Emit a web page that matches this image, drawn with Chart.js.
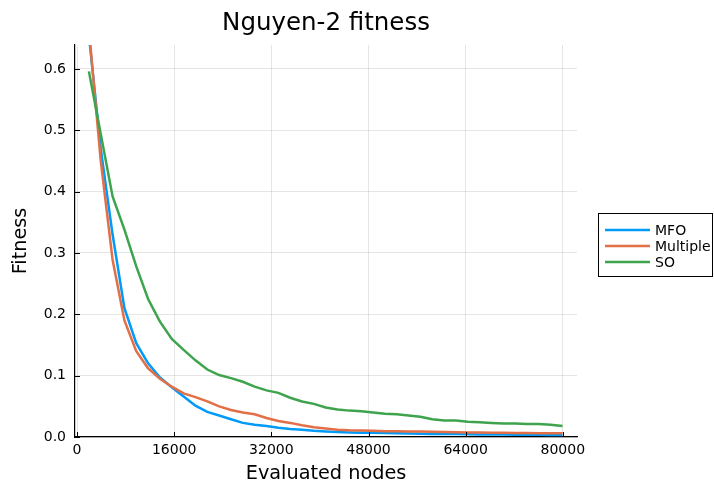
<!DOCTYPE html>
<html>
<head>
<meta charset="utf-8">
<title>Nguyen-2 fitness</title>
<script src="https://cdn.jsdelivr.net/npm/chart.js@4.4.1/dist/chart.umd.min.js"></script>
<style>
	html, body { margin: 0; padding: 0; background: #fff; }
	canvas { display: block; }
</style>
</head>
<body>
<canvas id="fitness-chart" width="714" height="488"></canvas>
<script>
// Evaluated nodes per generation (shared by all runs)
const evaluatedNodes = [
	1950, 3900, 5850, 7800, 9750, 11700, 13650, 15600, 17550, 19500,
	21450, 23400, 25350, 27300, 29250, 31200, 33150, 35100, 37050, 39000,
	40950, 42900, 44850, 46800, 48750, 50700, 52650, 54600, 56550, 58500,
	60450, 62400, 64350, 66300, 68250, 70200, 72150, 74100, 76050, 78000, 79950
];

const mfoFitness = [
	0.655, 0.47, 0.33, 0.21, 0.153, 0.12, 0.097, 0.081, 0.066, 0.051,
	0.041, 0.035, 0.029, 0.023, 0.020, 0.018, 0.015, 0.013, 0.012, 0.010,
	0.009, 0.008, 0.0075, 0.007, 0.0068, 0.0065, 0.006, 0.0058, 0.0055, 0.005,
	0.005, 0.0048, 0.0045, 0.0042, 0.004, 0.004, 0.0038, 0.0036, 0.0035, 0.0034, 0.0033
];

const multipleFitness = [
	0.665, 0.45, 0.289, 0.19, 0.14, 0.112, 0.095, 0.082, 0.071, 0.065,
	0.058, 0.050, 0.044, 0.040, 0.037, 0.031, 0.026, 0.023, 0.019, 0.016,
	0.014, 0.012, 0.011, 0.0105, 0.010, 0.0095, 0.0092, 0.009, 0.0088, 0.0085,
	0.008, 0.0078, 0.0075, 0.0072, 0.007, 0.0068, 0.0066, 0.0064, 0.0062, 0.006, 0.006
];

const soFitness = [
	0.596, 0.494, 0.392, 0.338, 0.278, 0.225, 0.188, 0.160, 0.142, 0.125,
	0.110, 0.101, 0.096, 0.090, 0.082, 0.076, 0.072, 0.064, 0.058, 0.054,
	0.048, 0.045, 0.043, 0.042, 0.040, 0.038, 0.037, 0.035, 0.033, 0.029,
	0.027, 0.027, 0.025, 0.024, 0.023, 0.022, 0.022, 0.021, 0.021, 0.020, 0.018
];

const xTicks = [0, 16000, 32000, 48000, 64000, 80000];
const yTicks = [0, 0.1, 0.2, 0.3, 0.4, 0.5, 0.6];

const FONT = '"DejaVu Sans", sans-serif';

function toPoints(ys) {
	return ys.map((y, i) => ({ x: evaluatedNodes[i], y }));
}

// Title, inward tick marks and the boxed legend to the right of the plot
const decorations = {
	id: 'decorations',
	afterDraw(chart) {
		const { ctx, chartArea, scales } = chart;
		ctx.save();

		// title
		ctx.fillStyle = '#000';
		ctx.font = `24.5px ${FONT}`;
		ctx.textAlign = 'center';
		ctx.textBaseline = 'alphabetic';
		ctx.fillText('Nguyen-2 fitness', (chartArea.left + chartArea.right) / 2, 30);

		// ticks point into the plot
		ctx.strokeStyle = '#000';
		ctx.lineWidth = 1;
		ctx.beginPath();
		xTicks.forEach((v) => {
			const px = Math.round(scales.x.getPixelForValue(v)) + 0.5;
			ctx.moveTo(px, chartArea.bottom);
			ctx.lineTo(px, chartArea.bottom - 5);
		});
		yTicks.forEach((v) => {
			const py = Math.round(scales.y.getPixelForValue(v)) + 0.5;
			ctx.moveTo(chartArea.left, py);
			ctx.lineTo(chartArea.left + 5, py);
		});
		ctx.stroke();

		// legend
		const boxX = 598.5, boxY = 213.5, boxW = 114, boxH = 63;
		ctx.fillStyle = '#fff';
		ctx.fillRect(boxX, boxY, boxW, boxH);
		ctx.strokeStyle = '#000';
		ctx.lineWidth = 1;
		ctx.strokeRect(boxX, boxY, boxW, boxH);
		ctx.font = `14px ${FONT}`;
		ctx.textAlign = 'left';
		ctx.textBaseline = 'middle';
		chart.data.datasets.forEach((ds, i) => {
			const y = 230 + i * 16;
			ctx.strokeStyle = ds.borderColor;
			ctx.lineWidth = 2.5;
			ctx.beginPath();
			ctx.moveTo(605, y);
			ctx.lineTo(650, y);
			ctx.stroke();
			ctx.fillStyle = '#000';
			ctx.fillText(ds.label, 655, y + 1);
		});

		ctx.restore();
	}
};

new Chart(document.getElementById('fitness-chart'), {
	type: 'line',
	data: {
		// lower order is painted last, so SO ends up on top
		datasets: [
			{ label: 'MFO', data: toPoints(mfoFitness), borderColor: '#009AF9', order: 3 },
			{ label: 'Multiple', data: toPoints(multipleFitness), borderColor: '#E26F46', order: 2 },
			{ label: 'SO', data: toPoints(soFitness), borderColor: '#3DA44D', order: 1 }
		]
	},
	options: {
		responsive: false,
		animation: false,
		events: [],
		layout: { padding: { top: 45, right: 137, left: 0, bottom: 0 } },
		elements: {
			point: { radius: 0 },
			line: { borderWidth: 2.5, tension: 0, fill: false }
		},
		plugins: {
			legend: { display: false },
			title: { display: false },
			tooltip: { enabled: false }
		},
		scales: {
			x: {
				type: 'linear',
				min: -340,
				max: 82340,
				afterBuildTicks: (s) => { s.ticks = xTicks.map((v) => ({ value: v })); },
				afterFit: (s) => { s.height = 51; },
				grid: { color: 'rgba(0,0,0,0.1)', drawTicks: false },
				border: { color: '#000', width: 1.2 },
				ticks: {
					autoSkip: false,
					maxRotation: 0,
					padding: 5,
					color: '#000',
					font: { family: FONT, size: 14 },
					callback: (v) => String(v)
				},
				title: {
					display: true,
					text: 'Evaluated nodes',
					color: '#000',
					font: { family: FONT, size: 19.25 },
					padding: { top: 0, bottom: 2.5 }
				}
			},
			y: {
				type: 'linear',
				min: 0,
				max: 0.639,
				afterBuildTicks: (s) => { s.ticks = yTicks.map((v) => ({ value: v })); },
				afterFit: (s) => { s.width = 75; },
				grid: { color: 'rgba(0,0,0,0.1)', drawTicks: false },
				border: { color: '#000', width: 1.2 },
				ticks: {
					padding: 9,
					color: '#000',
					font: { family: FONT, size: 14 },
					callback: (v) => v.toFixed(1)
				},
				title: {
					display: true,
					text: 'Fitness',
					color: '#000',
					font: { family: FONT, size: 19.25 },
					padding: { top: 9.5, bottom: 0 }
				}
			}
		}
	},
	plugins: [decorations]
});
</script>
</body>
</html>
